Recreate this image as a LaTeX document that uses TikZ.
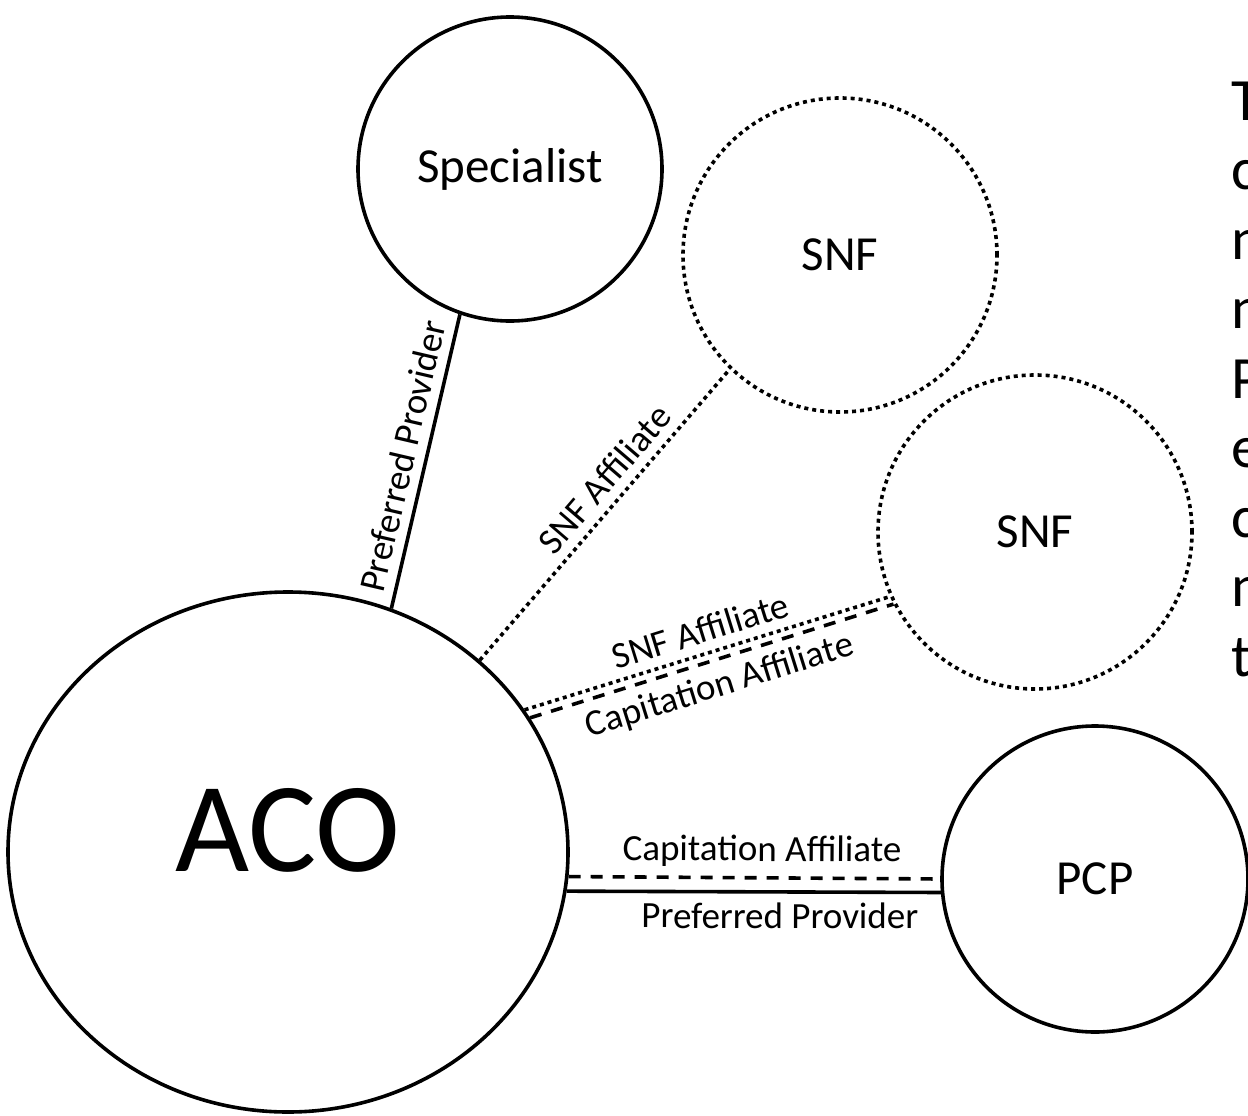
\documentclass[tikz,border=0pt]{standalone}
\usepackage{fontspec}
\setmainfont{Carlito}
\usetikzlibrary{shapes.geometric}
\tikzset{
entity/.style = {circle, draw = black, line width = 3.6pt, fill = white, inner sep = 0pt, font = \fontsize{49}{59}\selectfont},
loose entity/.style = {entity, dash pattern = on 4pt off 4pt},
link/.style = {line width = 3.6pt},
snf link/.style = {link, dash pattern = on 4pt off 4pt},
cap link/.style = {link, dash pattern = on 12pt off 10pt},
link label/.style = {font = \fontsize{37}{44}\selectfont, inner sep = 9pt, sloped},
cut text/.style = {font = \fontsize{60}{72}\selectfont, inner sep = 0pt},
}

\begin{document}
\begin{tikzpicture}[x = 1pt, y = -1pt]
    \useasboundingbox (0, 0) rectangle (1248, 1116);
    % the organisations
    \node[entity, ellipse, minimum width = 560pt, minimum height = 520pt, text depth = 44pt, font = \fontsize{128}{150}\selectfont] (aco) at (288, 852) {ACO};
    \node[entity, minimum size = 304pt] (spec) at (510, 169) {Specialist};
    \node[loose entity, minimum size = 314pt] (snf1) at (840, 255) {SNF};
    \node[loose entity, minimum size = 314pt] (snf2) at (1035, 532) {SNF};
    \node[entity, minimum size = 306pt] (pcp) at (1095, 879) {PCP};
    % the links
    \draw[link] (aco.67.2) -- node[link label, above] {Preferred Provider} (spec.251.7);
    \draw[snf link] (aco.45.2) -- node[link label, above, pos = 0.57] {SNF Affiliate} (snf1.226.8);
    \draw[snf link] (aco.31.5) -- node[link label, above] {SNF Affiliate} (snf2.204.4);
    \draw[cap link] (aco.29.1) -- node[link label, below] {Capitation Affiliate} (snf2.207.5);
    \draw[cap link] (aco.-5.9) -- node[link label, above, pos = 0.52] {Capitation Affiliate} (pcp.180.7);
    \draw[link] (aco.-8.4) -- node[link label, below, pos = 0.57] {Preferred Provider} (pcp.185.3);
    % text cut off at the right edge
    \foreach \ch [count = \i from 0] in {T, c, n, n, P, e, c, n, t}
        \node[cut text, anchor = base west] (cut\i) at (1231, 120 + 69.5*\i) {\ch};
\end{tikzpicture}
\end{document}
